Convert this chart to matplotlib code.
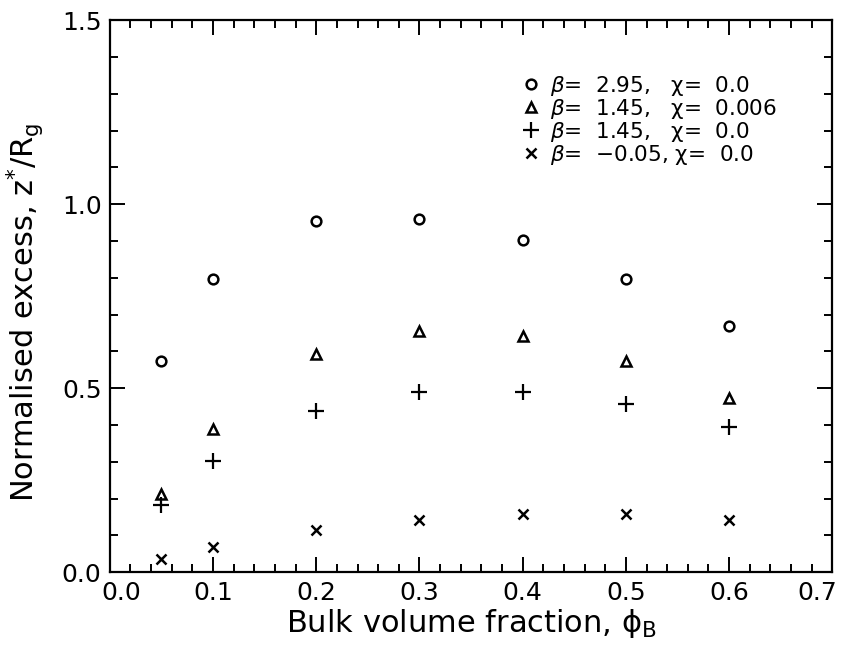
import matplotlib
matplotlib.use("Agg")
import matplotlib.pyplot as plt
from matplotlib.ticker import MultipleLocator

plt.rcParams["font.family"] = ["DejaVu Sans"]
plt.rcParams["mathtext.fontset"] = "dejavusans"

# bulk volume fraction
phi_b = [0.05, 0.1, 0.2, 0.3, 0.4, 0.5, 0.6]

# normalised excess z*/Rg, one list per (beta, chi) run
beta_295_chi_0 = [0.575, 0.798, 0.955, 0.961, 0.902, 0.798, 0.668]
beta_145_chi_0006 = [0.212, 0.388, 0.594, 0.655, 0.643, 0.573, 0.473]
beta_145_chi_0 = [0.183, 0.303, 0.439, 0.489, 0.489, 0.456, 0.394]
beta_m005_chi_0 = [0.036, 0.069, 0.116, 0.143, 0.158, 0.158, 0.141]

betas = ["2.95", "1.45", "1.45", "\u22120.05"]
chis = ["0.0", "0.006", "0.0", "0.0"]

x_lim = (0.0, 0.7)
y_lim = (0.0, 1.5)

series = [beta_295_chi_0, beta_145_chi_0006, beta_145_chi_0, beta_m005_chi_0]
markers = [
    dict(marker="o", ms=7, mfc="none", mew=1.8),
    dict(marker="^", ms=7, mfc="none", mew=1.8),
    dict(marker="+", ms=11, mew=1.6),
    dict(marker="x", ms=6.5, mew=1.8),
]

fig = plt.figure(figsize=(8.45, 6.51), dpi=100)
ax = fig.add_axes([0.130, 0.121, 0.855, 0.848])

for ys, b, c, mk in zip(series, betas, chis, markers):
    gap = " " if b.startswith("\u2212") else "   "
    label = rf"$\beta$=  {b},{gap}$\mathrm{{\chi}}$=  {c}"
    ax.plot(phi_b, ys, ls="none", color="black", label=label, **mk)

ax.set_xlim(*x_lim)
ax.set_ylim(*y_lim)
ax.xaxis.set_major_locator(MultipleLocator(0.1))
ax.xaxis.set_minor_locator(MultipleLocator(0.02))
ax.yaxis.set_major_locator(MultipleLocator(0.5))
ax.yaxis.set_minor_locator(MultipleLocator(0.1))


def x_fmt(v, pos):
    # the two end labels are drawn separately, nudged inside the frame
    if abs(v - x_lim[0]) < 1e-9 or abs(v - x_lim[1]) < 1e-9:
        return ""
    return f"{v:.1f}"


ax.xaxis.set_major_formatter(x_fmt)
ax.yaxis.set_major_formatter(lambda v, p: f"{v:.1f}")

ax.tick_params(which="both", direction="in", top=True, right=True, width=1.4,
               labelsize=18, colors="black")
ax.tick_params(which="major", length=11, pad=6)
ax.tick_params(which="minor", length=5.5)
for s in ax.spines.values():
    s.set_linewidth(1.6)

for xv, dx in [(x_lim[0], 8.5), (x_lim[1], -10.5)]:
    ax.annotate(f"{xv:.1f}", xy=(xv, y_lim[0]), xytext=(dx, -6),
                textcoords="offset points", ha="center", va="top",
                fontsize=18, annotation_clip=False)

ax.set_xlabel("Bulk volume fraction, \u03d5$_{\\mathrm{B}}$", fontsize=22, labelpad=2)
ax.set_ylabel("Normalised excess, z$^{*}$/R$_{\\mathrm{g}}$", fontsize=22)
ax.yaxis.set_label_coords(-0.088, 0.47)

ax.legend(loc="upper left", bbox_to_anchor=(0.55, 0.93), frameon=False,
          fontsize=15.5, handlelength=0.8, handletextpad=0.5, labelspacing=-0.05,
          borderpad=0.2)

fig.savefig("out.png", dpi=100)
